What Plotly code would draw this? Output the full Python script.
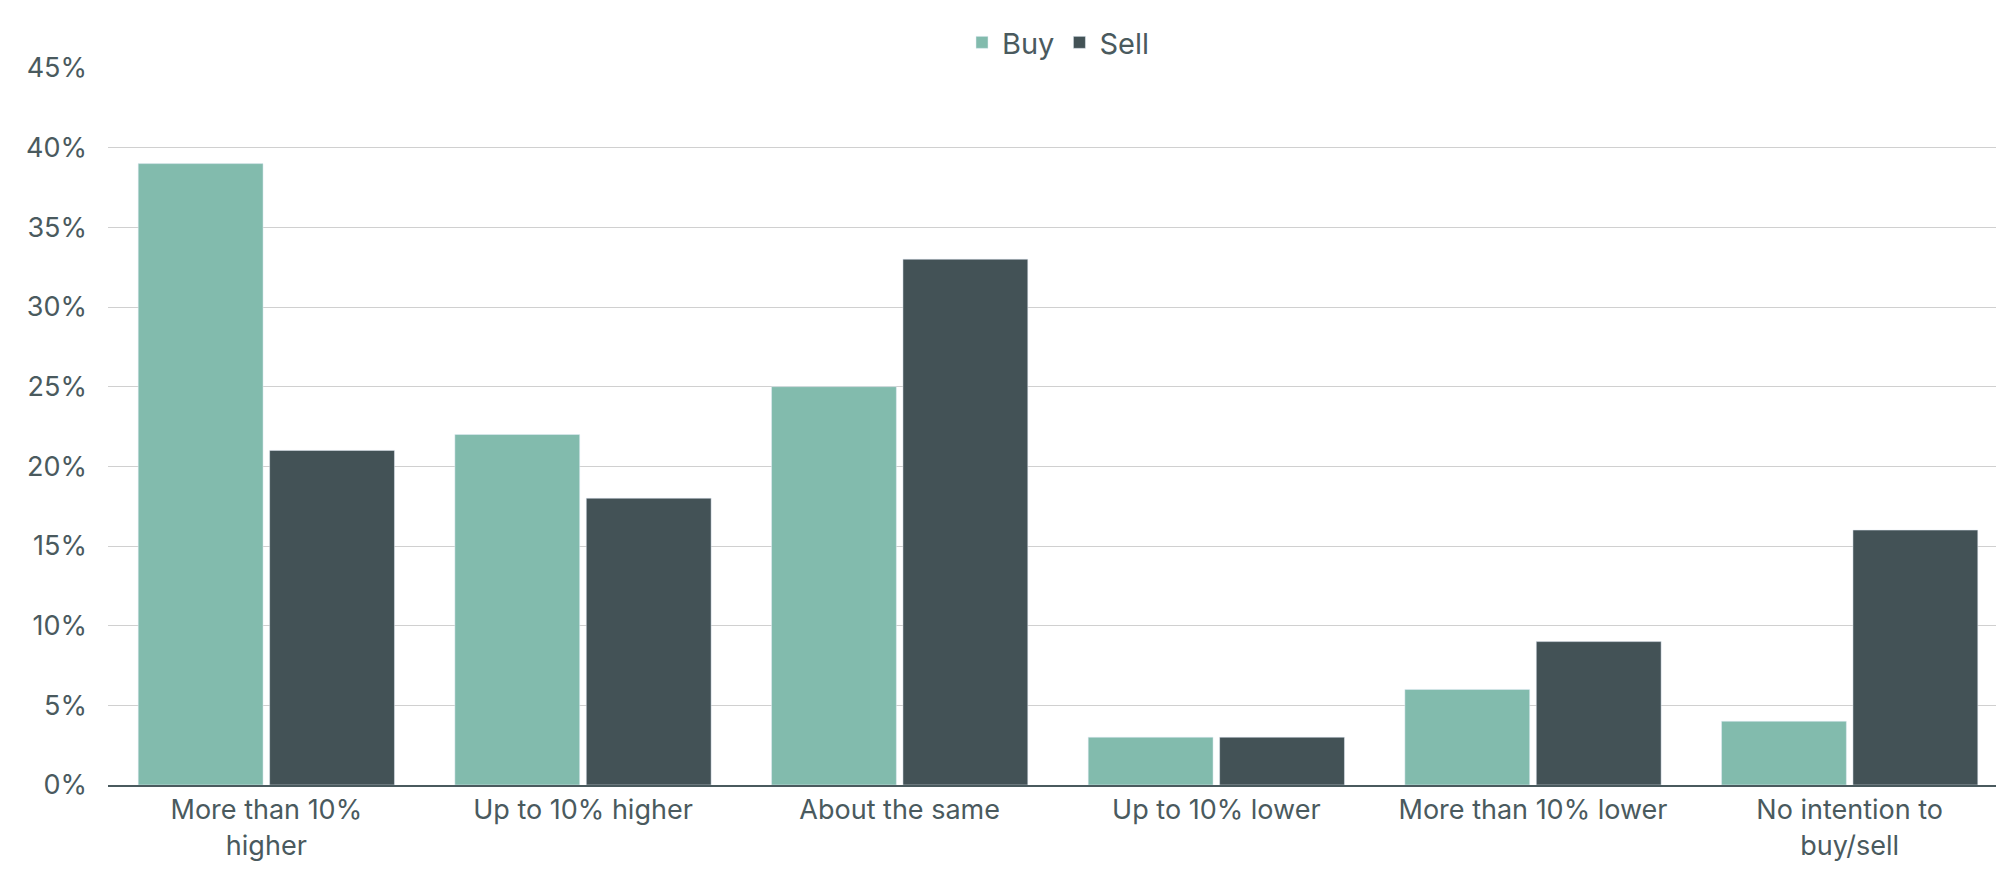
import plotly.graph_objects as go

# categorias e valores
categorias = ["More than 10%<br>higher", "Up to 10% higher", "About the same",
              "Up to 10% lower", "More than 10% lower", "No intention to<br>buy/sell"]
buy = [39, 22, 25, 3, 6, 4]
sell = [21, 18, 33, 3, 9, 16]
ticks = [0, 5, 10, 15, 20, 25, 30, 35, 40, 45]

cor_texto = "#4a5a5e"

fig = go.Figure(data=[
    go.Bar(name="Buy", x=categorias, y=buy, marker_color="#82bbad"),
    go.Bar(name="Sell", x=categorias, y=sell, marker_color="#435256"),
])

fig.update_layout(
    width=2004, height=892,
    barmode="group", bargap=0.17, bargroupgap=0.05,
    plot_bgcolor="white", paper_bgcolor="white",
    font=dict(family="Inter", size=27, color=cor_texto),
    margin=dict(l=100, r=4, t=60, b=115),
    legend=dict(orientation="h", x=0.5, xanchor="center", y=1.0, yanchor="bottom",
                font=dict(size=29)),
)
fig.update_yaxes(range=[0, 45], tickvals=ticks, ticktext=[f"{t}%" for t in ticks],
                 gridcolor="#d0d0d0", gridwidth=1, zeroline=False, ticks="",
                 ticklabelstandoff=20)
fig.update_xaxes(showline=True, linecolor="#4a5a5e", linewidth=2, ticks="")

fig.write_html("out.html")
